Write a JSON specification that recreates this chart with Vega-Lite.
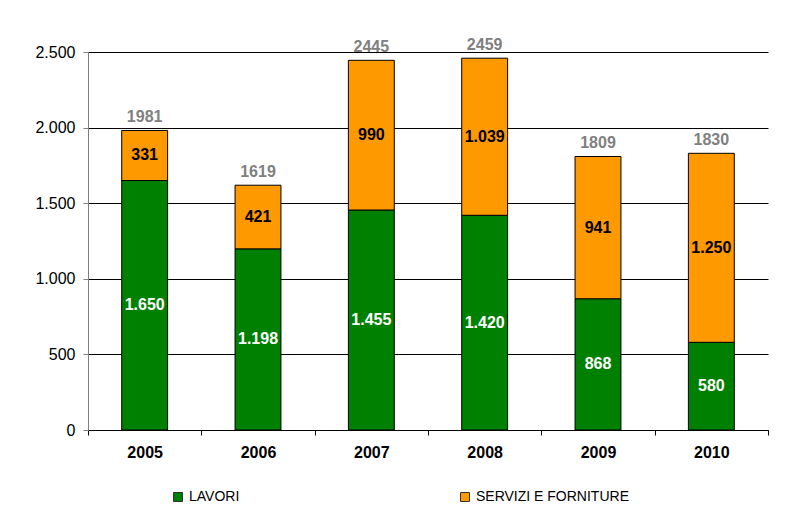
{
  "$schema": "https://vega.github.io/schema/vega-lite/v6.json",
  "width": 680,
  "height": 378,
  "autosize": {"type": "none"},
  "padding": {"left": 88, "top": 52, "right": 22, "bottom": 88},
  "background": "white",
  "config": {
    "view": {"stroke": null},
    "font": "Liberation Sans",
    "locale": {"number": {"decimal": ",", "thousands": ".", "grouping": [3], "currency": ["€", ""]}}
  },
  "data": {
    "values": [
      {"anno": "2005", "tipo": "LAVORI", "valore": 1650},
      {"anno": "2005", "tipo": "SERVIZI E FORNITURE", "valore": 331},
      {"anno": "2006", "tipo": "LAVORI", "valore": 1198},
      {"anno": "2006", "tipo": "SERVIZI E FORNITURE", "valore": 421},
      {"anno": "2007", "tipo": "LAVORI", "valore": 1455},
      {"anno": "2007", "tipo": "SERVIZI E FORNITURE", "valore": 990},
      {"anno": "2008", "tipo": "LAVORI", "valore": 1420},
      {"anno": "2008", "tipo": "SERVIZI E FORNITURE", "valore": 1039},
      {"anno": "2009", "tipo": "LAVORI", "valore": 868},
      {"anno": "2009", "tipo": "SERVIZI E FORNITURE", "valore": 941},
      {"anno": "2010", "tipo": "LAVORI", "valore": 580},
      {"anno": "2010", "tipo": "SERVIZI E FORNITURE", "valore": 1250}
    ]
  },
  "transform": [
    {"calculate": "datum.tipo === 'LAVORI' ? 0 : 1", "as": "ordine"},
    {"stack": "valore", "groupby": ["anno"], "sort": [{"field": "ordine", "order": "ascending"}], "as": ["y0", "y1"]},
    {"calculate": "(datum.y0 + datum.y1) / 2", "as": "ymid"}
  ],
  "encoding": {
    "x": {
      "field": "anno", "type": "nominal",
      "scale": {"paddingInner": 0, "paddingOuter": 0},
      "axis": {
        "title": null, "labelAngle": 0, "labelFontWeight": "bold", "labelFontSize": 16,
        "labelColor": "black", "labelPadding": 9, "domainColor": "black",
        "tickColor": "black", "tickSize": 5, "tickBand": "extent", "grid": false
      }
    }
  },
  "layer": [
    {
      "mark": {"type": "bar", "width": {"band": 0.405}, "stroke": "black", "strokeWidth": 1},
      "encoding": {
        "y": {
          "field": "y1", "type": "quantitative",
          "scale": {"domain": [0, 2500], "nice": false},
          "axis": {
            "title": null, "values": [0, 500, 1000, 1500, 2000, 2500], "format": ",d",
            "labelFontSize": 16, "labelColor": "black", "labelPadding": 8,
            "tickSize": 5, "tickColor": "#808080", "domainColor": "#808080",
            "gridColor": "black", "gridWidth": 1
          }
        },
        "y2": {"field": "y0"},
        "color": {
          "field": "tipo", "type": "nominal",
          "scale": {"domain": ["LAVORI", "SERVIZI E FORNITURE"], "range": ["#008000", "#FF9900"]},
          "legend": {
            "title": null, "orient": "none", "direction": "horizontal",
            "legendX": 83, "legendY": 438, "columns": 2, "columnPadding": 218,
            "symbolType": "square", "symbolSize": 81, "symbolStrokeColor": "#333333",
            "symbolStrokeWidth": 1, "labelFontSize": 14, "labelColor": "black", "labelOffset": 4
          }
        }
      }
    },
    {
      "mark": {"type": "text", "fontSize": 16, "fontWeight": "bold", "baseline": "middle"},
      "encoding": {
        "y": {"field": "ymid", "type": "quantitative"},
        "text": {"field": "valore", "type": "quantitative", "format": ",d"},
        "color": {"condition": {"test": "datum.tipo === 'LAVORI'", "value": "white"}, "value": "black"}
      }
    },
    {
      "transform": [{"aggregate": [{"op": "sum", "field": "valore", "as": "totale"}], "groupby": ["anno"]}],
      "mark": {"type": "text", "fontSize": 16, "fontWeight": "bold", "color": "#808080", "baseline": "alphabetic", "dy": -8},
      "encoding": {
        "y": {"field": "totale", "type": "quantitative"},
        "text": {"field": "totale", "type": "quantitative", "format": "d"}
      }
    }
  ]
}
